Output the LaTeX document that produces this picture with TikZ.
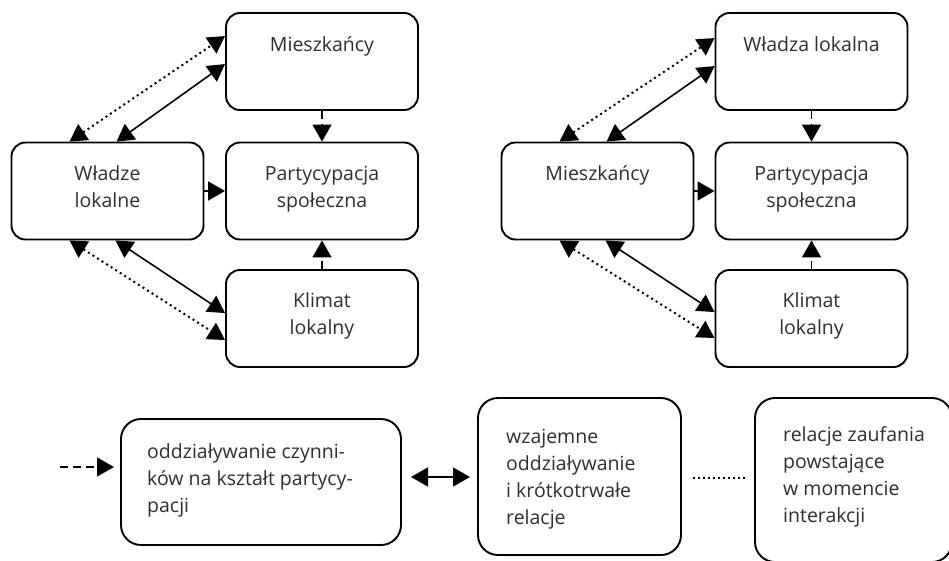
\documentclass[tikz,border=0pt]{standalone}
\usepackage{fontspec}
\setmainfont{Open Sans}
\usetikzlibrary{arrows.meta,calc}
\definecolor{txt}{HTML}{2E2E2E}
\begin{document}
\begin{tikzpicture}[x=1pt,y=-1pt,
  box/.style={draw, line width=1.9pt, rounded corners=14pt, minimum width=192pt, minimum height=97pt, inner sep=0pt},
  lbox/.style={draw, line width=1.9pt, rounded corners=20pt, inner sep=0pt},
  lbl/.style={text=txt, font=\fontsize{19.5}{27}\selectfont, align=center, anchor=base, inner sep=0pt},
  ltext/.style={text=txt, font=\fontsize{19.5}{27}\selectfont, align=left, anchor=base west, inner sep=0pt},
  conn/.style={line width=1.6pt},
  head/.style={Triangle[length=17pt,width=19pt]},
  tip/.style={conn, -{Triangle[length=17pt,width=19pt]}},
  twoway/.style={conn, {Triangle[length=17pt,width=19pt]}-{Triangle[length=17pt,width=19pt]}},
  dotline/.style={line width=2pt, dash pattern=on 2pt off 3.4pt},
  dashline/.style={dash pattern=on 8pt off 5pt},
]
\useasboundingbox (0,0) rectangle (949,560);
\clip (0,0) rectangle (949,560);

% ---------- left scheme ----------
% (multi-line labels are anchored at the baseline of their last line)
\node[box] (mA) at (322,61.5) {};
\node[box] (wA) at (107.5,191) {};
\node[box] (pA) at (322,191) {};
\node[box] (kA) at (322,318.5) {};
\node[lbl] (mAt) at ($(mA.north)+(0,39)$) {Mieszkańcy};
\node[lbl] (wAt) at ($(wA.north)+(0,66)$) {Władze\\lokalne};
\node[lbl] (pAt) at ($(pA.north)+(0,66)$) {Partycypacja\\społeczna};
\node[lbl] (kAt) at ($(kA.north)+(0,65)$) {Klimat\\lokalny};

\draw[twoway, dotline] ($(wA.north west)+(59,0)$) -- ($(mA.north west)+(0,24)$);
\draw[twoway] ($(wA.north west)+(106,0)$) -- ($(mA.north west)+(0,52)$);
\draw[twoway] ($(wA.south west)+(105,0)$) -- ($(kA.north west)+(0,44)$);
\draw[twoway, dotline] ($(wA.south west)+(59,0)$) -- ($(kA.north west)+(0,71)$);
\draw[tip] (wA.east) -- (pA.west);
\draw[tip, dashline] (mA.south) -- (pA.north);
\draw[tip, dashline] (kA.north) -- (pA.south);

% ---------- right scheme ----------
\node[box] (wB) at (811.5,61.5) {};
\node[box] (mB) at (597.5,191) {};
\node[box] (pB) at (811.5,191) {};
\node[box] (kB) at (811.5,318.5) {};
\node[lbl] (wBt) at ($(wB.north)+(0,39)$) {Władza lokalna};
\node[lbl] (mBt) at ($(mB.north)+(0,39)$) {Mieszkańcy};
\node[lbl] (pBt) at ($(pB.north)+(0,66)$) {Partycypacja\\społeczna};
\node[lbl] (kBt) at ($(kB.north)+(0,65)$) {Klimat\\lokalny};

\draw[twoway, dotline] ($(mB.north west)+(59,0)$) -- ($(wB.north west)+(0,26)$);
\draw[twoway] ($(mB.north west)+(106,0)$) -- ($(wB.north west)+(0,54)$);
\draw[twoway] ($(mB.south west)+(105,0)$) -- ($(kB.north west)+(0,43)$);
\draw[twoway, dotline] ($(mB.south west)+(59,0)$) -- ($(kB.north west)+(0,69)$);
\draw[tip] (mB.east) -- (pB.west);
\draw[tip, dashline] (wB.south) -- (pB.north);
\draw[tip, dashline] (kB.north) -- (pB.south);

% ---------- legend ----------
\node[lbox, minimum width=280pt, minimum height=126pt] (l1) at (261,482) {};
\node[lbox, minimum width=203pt, minimum height=157pt] (l2) at (579.5,476.5) {};
\node[lbox, minimum width=197pt, minimum height=164pt] (l3) at (853.5,480) {};
\node[ltext] (l1t) at (147,512) {oddziaływanie czynni-\\ków na kształt partycy-\\pacji};
\node[ltext] (l2t) at (506,524) {wzajemne\\oddziaływanie\\i krótkotrwałe\\relacje};
\node[ltext] (l3t) at (783,522) {relacje zaufania\\powstające\\w momencie\\interakcji};

\coordinate (dA) at (60,467);
\coordinate (dB) at (114,467);
\coordinate (eA) at (411,477);
\coordinate (eB) at (470,477);
\coordinate (fA) at (693,478);
\coordinate (fB) at (745,478);
\draw[tip, dashline] (dA) -- (dB);
\draw[twoway] (eA) -- (eB);
\draw[line width=1.4pt, dash pattern=on 1.5pt off 3.5pt] (fA) -- (fB);
\end{tikzpicture}
\end{document}
